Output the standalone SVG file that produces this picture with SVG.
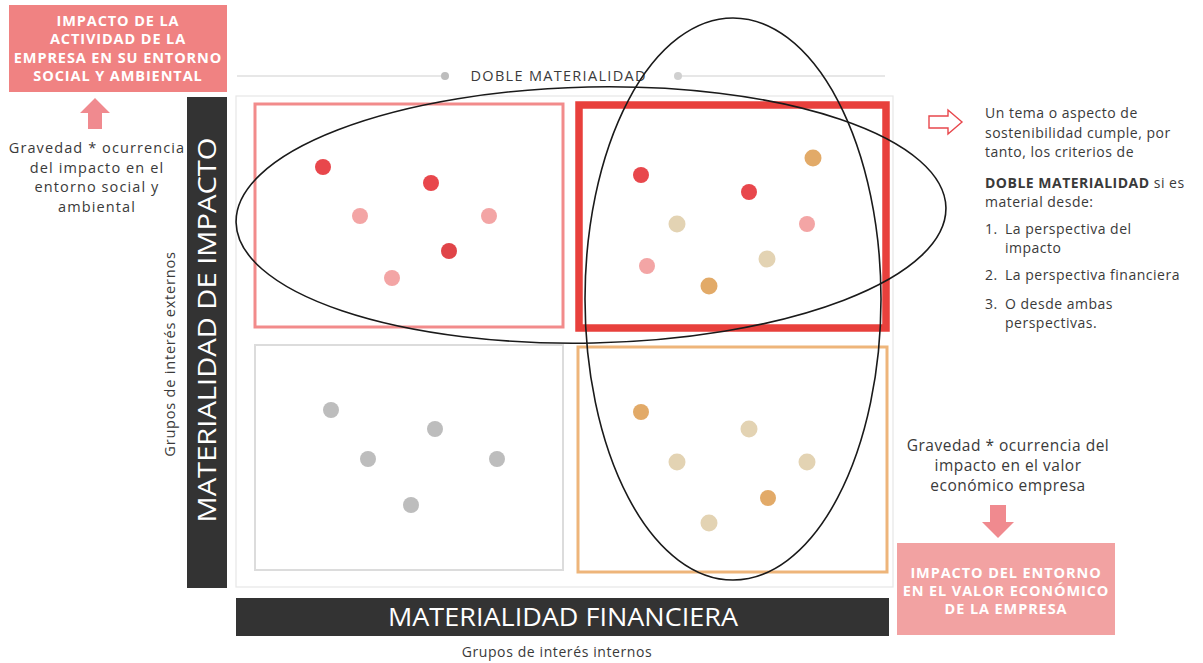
<svg xmlns="http://www.w3.org/2000/svg" width="1203" height="663" viewBox="0 0 1203 663">
<style>
.t{font-family:"Open Sans","Liberation Sans",sans-serif;fill:#3a3a3a}
.bx{font-family:"Open Sans","Liberation Sans",sans-serif;font-weight:700;fill:#fff;font-size:14.5px;letter-spacing:0.9px;text-anchor:middle}
.bar{font-family:"Open Sans","Liberation Sans",sans-serif;fill:#fff;font-size:25px;text-anchor:middle}
.r{fill:#e8474c}.p{fill:#f3a5a5}.o{fill:#e2aa68}.b{fill:#e3d3b3}.g{fill:#bdbdbd}
.ell{fill:none;stroke:#1a1a1a;stroke-width:1.6}
</style>
<rect width="1203" height="663" fill="#fff"/>

<g id="box-impacto-actividad">
<rect x="9" y="5" width="218" height="87" fill="#f08282"/>
<text class="bx" x="118" y="26">IMPACTO DE LA</text>
<text class="bx" x="118" y="44">ACTIVIDAD DE LA</text>
<text class="bx" x="118" y="63">EMPRESA EN SU ENTORNO</text>
<text class="bx" x="118" y="81">SOCIAL Y AMBIENTAL</text>
</g>

<g id="arrow-up">
<polygon points="95,98 110,113 102,113 102,129 88,129 88,113 80,113" fill="#f08a8f"/>
</g>

<g id="text-gravedad-social" class="t" font-size="14.5" letter-spacing="1.1" text-anchor="middle">
<text x="97" y="153">Gravedad * ocurrencia</text>
<text x="97" y="172.5">del impacto en el</text>
<text x="97" y="192">entorno social y</text>
<text x="97" y="211.5">ambiental</text>
</g>

<g id="doble-materialidad-header">
<line x1="237" y1="76" x2="441" y2="76" stroke="#cfcfcf" stroke-width="1.2"/>
<line x1="682" y1="76" x2="885" y2="76" stroke="#cfcfcf" stroke-width="1.2"/>
<circle cx="445" cy="76" r="4" fill="#bdbdbd"/>
<circle cx="678" cy="76" r="4" fill="#d0d0d0"/>
<text class="t" x="558" y="81" font-size="14.5" text-anchor="middle" textLength="175" lengthAdjust="spacing">DOBLE MATERIALIDAD</text>
</g>

<g id="frame">
<rect x="236" y="96" width="657" height="491" fill="none" stroke="#e6e6e6" stroke-width="1.2"/>
</g>

<g id="bar-impacto">
<rect x="187" y="97" width="40" height="491" fill="#333"/>
<text class="bar" transform="translate(216,330) rotate(-90)" textLength="385" lengthAdjust="spacingAndGlyphs">MATERIALIDAD DE IMPACTO</text>
</g>

<g id="label-externos">
<text class="t" transform="translate(175,354) rotate(-90)" font-size="14.5" letter-spacing="0.8" text-anchor="middle">Grupos de interés externos</text>
</g>

<g id="quadrant-top-left">
<rect x="255" y="104" width="308" height="223" fill="none" stroke="#f28b8b" stroke-width="3"/>
<circle class="r" cx="323" cy="167" r="8"/>
<circle class="r" cx="431" cy="183" r="8"/>
<circle class="p" cx="360" cy="216" r="8"/>
<circle class="p" cx="489" cy="216" r="8"/>
<circle class="r" cx="449" cy="251" r="8" style="fill:#e04448"/>
<circle class="p" cx="392" cy="278" r="8"/>
</g>

<g id="quadrant-top-right">
<rect x="579" y="105" width="307" height="223" fill="none" stroke="#e8403c" stroke-width="7.5"/>
<circle class="r" cx="641" cy="175" r="8"/>
<circle class="r" cx="749" cy="192" r="8"/>
<circle class="o" cx="813" cy="158" r="8.5"/>
<circle class="b" cx="677" cy="224" r="8.5"/>
<circle class="p" cx="807" cy="224" r="8"/>
<circle class="p" cx="647" cy="266" r="8"/>
<circle class="o" cx="709" cy="286" r="8.5"/>
<circle class="b" cx="767" cy="259" r="8.5"/>
</g>

<g id="quadrant-bottom-left">
<rect x="255" y="345" width="308" height="225" fill="none" stroke="#dcdcdc" stroke-width="2"/>
<circle class="g" cx="331" cy="410" r="8"/>
<circle class="g" cx="435" cy="429" r="8"/>
<circle class="g" cx="368" cy="459" r="8"/>
<circle class="g" cx="497" cy="459" r="8"/>
<circle class="g" cx="411" cy="505" r="8"/>
</g>

<g id="quadrant-bottom-right">
<rect x="578" y="347" width="309" height="225" fill="none" stroke="#eeb57a" stroke-width="3"/>
<circle class="o" cx="641" cy="412" r="8"/>
<circle class="b" cx="749" cy="429" r="8.5"/>
<circle class="b" cx="677" cy="462" r="8.5"/>
<circle class="b" cx="807" cy="462" r="8.5"/>
<circle class="o" cx="768" cy="498" r="8"/>
<circle class="b" cx="709" cy="523" r="8.5"/>
</g>

<g id="connectors">
<ellipse class="ell" cx="591" cy="215" rx="355" ry="128" transform="rotate(-1.2 591 215)"/>
<ellipse class="ell" cx="733" cy="299" rx="148" ry="281"/>
</g>

<g id="bar-financiera">
<rect x="236" y="598" width="653" height="38" fill="#333"/>
<text class="bar" x="563" y="626" textLength="350" lengthAdjust="spacingAndGlyphs">MATERIALIDAD FINANCIERA</text>
</g>

<g id="label-internos">
<text class="t" x="557" y="657" font-size="14" letter-spacing="0.6" text-anchor="middle">Grupos de interés internos</text>
</g>

<g id="arrow-right">
<polygon points="929,116 948,116 948,110 962,122 948,134 948,128 929,128" fill="#fff" stroke="#e8474c" stroke-width="1.4"/>
</g>

<g id="text-criterios" class="t" font-size="14" letter-spacing="0.5">
<text x="985" y="118">Un tema o aspecto de</text>
<text x="985" y="138">sostenibilidad cumple, por</text>
<text x="985" y="157">tanto, los criterios de</text>
<text x="985" y="188"><tspan font-weight="700">DOBLE MATERIALIDAD</tspan> si es</text>
<text x="985" y="207">material desde:</text>
<text x="985" y="234">1.</text><text x="1005" y="234">La perspectiva del</text>
<text x="1005" y="253">impacto</text>
<text x="985" y="280">2.</text><text x="1005" y="280">La perspectiva financiera</text>
<text x="985" y="309">3.</text><text x="1005" y="309">O desde ambas</text>
<text x="1005" y="328">perspectivas.</text>
</g>

<g id="text-gravedad-economico" class="t" font-size="15.5" letter-spacing="0.5" text-anchor="middle">
<text x="1008" y="451">Gravedad * ocurrencia del</text>
<text x="1008" y="471">impacto en el valor</text>
<text x="1008" y="491">económico  empresa</text>
</g>

<g id="arrow-down">
<polygon points="990,505 1006,505 1006,522 1014,522 998,538 982,522 990,522" fill="#f08a8f"/>
</g>

<g id="box-impacto-entorno">
<rect x="897" y="543" width="218" height="92" fill="#f2a2a2"/>
<text class="bx" x="1006" y="578">IMPACTO DEL ENTORNO</text>
<text class="bx" x="1006" y="596">EN EL VALOR ECONÓMICO</text>
<text class="bx" x="1006" y="614">DE LA EMPRESA</text>
</g>
</svg>
